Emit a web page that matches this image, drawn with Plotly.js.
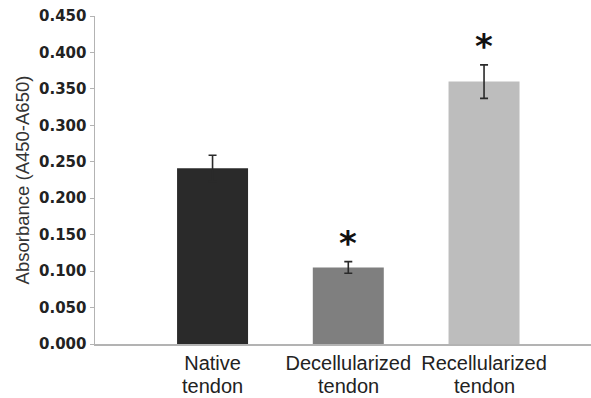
<!DOCTYPE html>
<html>
<head>
<meta charset="utf-8">
<script src="https://cdn.plot.ly/plotly-3.0.1.min.js"></script>
<style>html,body{margin:0;padding:0;background:#fff;}#chart{width:591px;height:398px;}</style>
</head>
<body>
<div id="chart"></div>
<script>
const categoryLine1 = ["Native", "Decellularized", "Recellularized"];
const categoryLine2 = ["tendon", "tendon", "tendon"];
const positions = [1, 2, 3];
const values = [0.241, 0.105, 0.360];
const errors = [0.018, 0.008, 0.023];
const significant = [false, true, true];
const barColors = ["#2a2a2a", "#7f7f7f", "#bdbdbd"];
const yTicks = [0, 0.05, 0.1, 0.15, 0.2, 0.25, 0.3, 0.35, 0.4, 0.45];

const trace = {
  type: "bar",
  x: positions,
  y: values,
  width: 0.523,
  marker: {color: barColors, line: {width: 0}},
  error_y: {type: "data", array: errors, visible: true, color: "#2a2a2a", thickness: 1.6, width: 4},
  hoverinfo: "none"
};

const labelFont = {family: "Liberation Sans, Arial", size: 20, color: "#222"};
const annotations = [];
positions.forEach((p, i) => {
  if (significant[i]) {
    annotations.push({
      x: p, y: values[i] + errors[i], xref: "x", yref: "y",
      text: "*", showarrow: false, yanchor: "bottom", yshift: -3,
      font: {family: "DejaVu Sans", size: 34, color: "#111", weight: "bold"}
    });
  }
  annotations.push({
    x: p, y: 0, xref: "x", yref: "paper",
    text: categoryLine2[i], showarrow: false, yanchor: "top", yshift: -29,
    font: labelFont
  });
});

const layout = {
  width: 591, height: 398,
  margin: {l: 95, r: 0, t: 16, b: 54},
  paper_bgcolor: "#fff", plot_bgcolor: "#fff",
  showlegend: false,
  xaxis: {
    range: [0.134, 3.788],
    tickvals: positions, ticktext: categoryLine1,
    showline: true, linecolor: "#b3b3b3", linewidth: 1.5,
    ticks: "", showgrid: false, zeroline: false,
    tickfont: labelFont
  },
  yaxis: {
    range: [0, 0.45],
    tickvals: yTicks,
    tickformat: ".3f",
    showline: true, linecolor: "#b3b3b3", linewidth: 1.5,
    ticks: "outside", ticklen: 4, tickcolor: "#b3b3b3", tickwidth: 1,
    showgrid: false, zeroline: false,
    tickfont: {family: "DejaVu Sans", size: 15, color: "#222", weight: "bold"},
    title: {text: "Absorbance (A450-A650)", standoff: 4,
      font: {family: "Liberation Sans, Arial", size: 18.5, color: "#333"}}
  },
  annotations: annotations
};

Plotly.newPlot("chart", [trace], layout, {staticPlot: true, displayModeBar: false});
</script>
</body>
</html>
